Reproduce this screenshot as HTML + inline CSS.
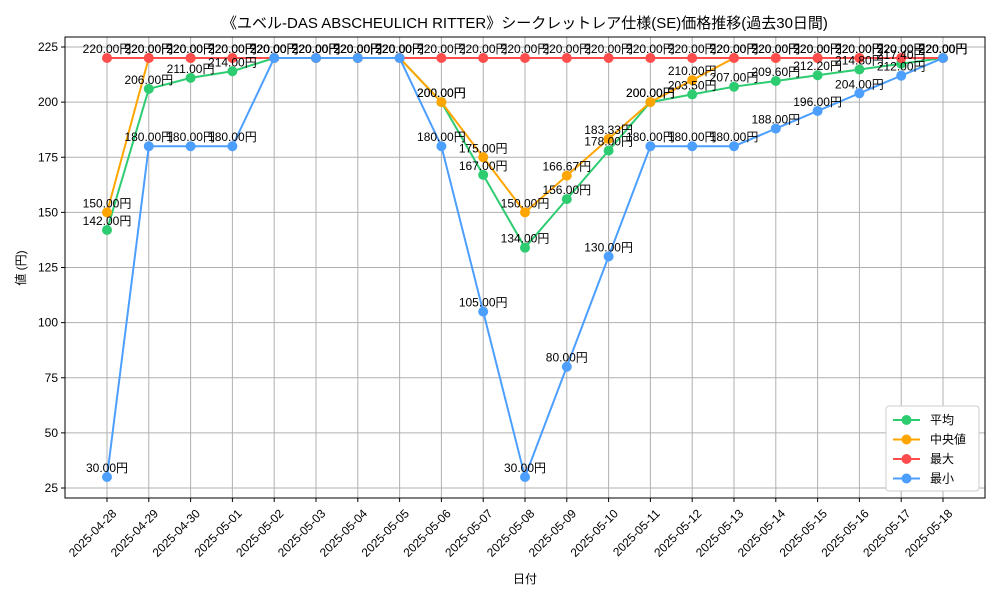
<!DOCTYPE html>
<html><head><meta charset="utf-8"><style>
body{margin:0;background:#fff;}
svg text{font-family:"Liberation Sans","Noto Sans CJK JP",sans-serif;}
</style></head><body>
<svg id="chart" width="1000" height="600" xmlns="http://www.w3.org/2000/svg"></svg>
<script>
const categories=["2025-04-28","2025-04-29","2025-04-30","2025-05-01","2025-05-02","2025-05-03","2025-05-04","2025-05-05","2025-05-06","2025-05-07","2025-05-08","2025-05-09","2025-05-10","2025-05-11","2025-05-12","2025-05-13","2025-05-14","2025-05-15","2025-05-16","2025-05-17","2025-05-18"];
const avgValues=[142,206,211,214,220,220,220,220,200,167,134,156,178,200,203.5,207,209.6,212.2,214.8,217.4,220];
const medianValues=[150,220,220,220,220,220,220,220,200,175,150,166.67,183.33,200,210,220,220,220,220,220,220];
const maxValues=[220,220,220,220,220,220,220,220,220,220,220,220,220,220,220,220,220,220,220,220,220];
const minValues=[30,180,180,180,220,220,220,220,180,105,30,80,130,180,180,180,188,196,204,212,220];
const yTicks=[25,50,75,100,125,150,175,200,225];
const seriesNames=["平均","中央値","最大","最小"];
const seriesColors=["#2ecc71","#ffa500","#ff4d4d","#4d9fff"];

const svg=document.getElementById('chart');
const NS="http://www.w3.org/2000/svg";
const L=65,R=985,T=37,B=498;
const x0=107,x1=943;
function xs(i){return x0+(x1-x0)*i/(categories.length-1);}
function ys(v){return 488-(v-25)*(441/200);}
function mk(tag,attrs,parent){const e=document.createElementNS(NS,tag);for(const k in attrs)e.setAttribute(k,attrs[k]);(parent||svg).appendChild(e);return e;}

const title=mk('text',{x:525,y:28,'text-anchor':'middle','font-size':15});


title.textContent="《ユベル-DAS ABSCHEULICH RITTER》シークレットレア仕様(SE)価格推移(過去30日間)";

const grid=mk('g',{});


categories.forEach((c,i)=>{
  mk('line',{x1:xs(i),x2:xs(i),y1:T,y2:B,stroke:'#b0b0b0','stroke-width':1},grid);
  mk('line',{x1:xs(i),x2:xs(i),y1:B,y2:B+4,stroke:'#000'},grid);
  const t=mk('text',{x:xs(i)+4,y:B+10,'font-size':12,'text-anchor':'end',transform:`rotate(-45 ${xs(i)+4} ${B+10})`});
  
  
  t.setAttribute('dominant-baseline','hanging');
  t.textContent=c;
});
yTicks.forEach(v=>{
  mk('line',{x1:L,x2:R,y1:ys(v),y2:ys(v),stroke:'#b0b0b0','stroke-width':1},grid);
  mk('line',{x1:L-4,x2:L,y1:ys(v),y2:ys(v),stroke:'#000'},grid);
  const t=mk('text',{x:L-7,y:ys(v)+4,'font-size':12,'text-anchor':'end'});
  
  
  t.textContent=v;
});
const frame=mk('rect',{x:L,y:T,width:R-L,height:B-T,fill:'none',stroke:'#000','stroke-width':1});



const xt=mk('text',{x:525,y:583,'font-size':12,'text-anchor':'middle'});


xt.textContent="日付";
const yt=mk('text',{x:25,y:268,'font-size':12,'text-anchor':'middle',transform:'rotate(-90 25 268)'});


yt.textContent="値 (円)";

const allSeries=[avgValues,medianValues,maxValues,minValues];
const seriesKeys=["avg","median","max","min"];
allSeries.forEach((vals,s)=>{
  const g=mk('g',{});
  
  
  const line=mk('polyline',{points:vals.map((v,i)=>xs(i)+','+ys(v)).join(' '),fill:'none',stroke:seriesColors[s],'stroke-width':2},g);
  
  
  vals.forEach((v,i)=>{
    const c=mk('circle',{cx:xs(i),cy:ys(v),r:5,fill:seriesColors[s]},g);
    
    
  });
});
allSeries.forEach((vals,s)=>{
  vals.forEach((v,i)=>{
    const t=mk('text',{x:xs(i),y:ys(v)-5,'font-size':12,'text-anchor':'middle'});
    
    
    t.textContent=v.toFixed(2)+"円";
  });
});

const lg=mk('g',{});


mk('rect',{x:886,y:406,width:93,height:85,fill:'#fff',stroke:'#ccc',rx:3},lg);
seriesNames.forEach((n,s)=>{
  const y=420+s*19.5;
  const e=mk('g',{},lg);
  
  
  mk('line',{x1:893,x2:920,y1:y,y2:y,stroke:seriesColors[s],'stroke-width':2},e);
  mk('circle',{cx:906.5,cy:y,r:5,fill:seriesColors[s]},e);
  const t=mk('text',{x:930,y:y+4,'font-size':12},e);
  t.textContent=n;
});
</script>
</body></html>
